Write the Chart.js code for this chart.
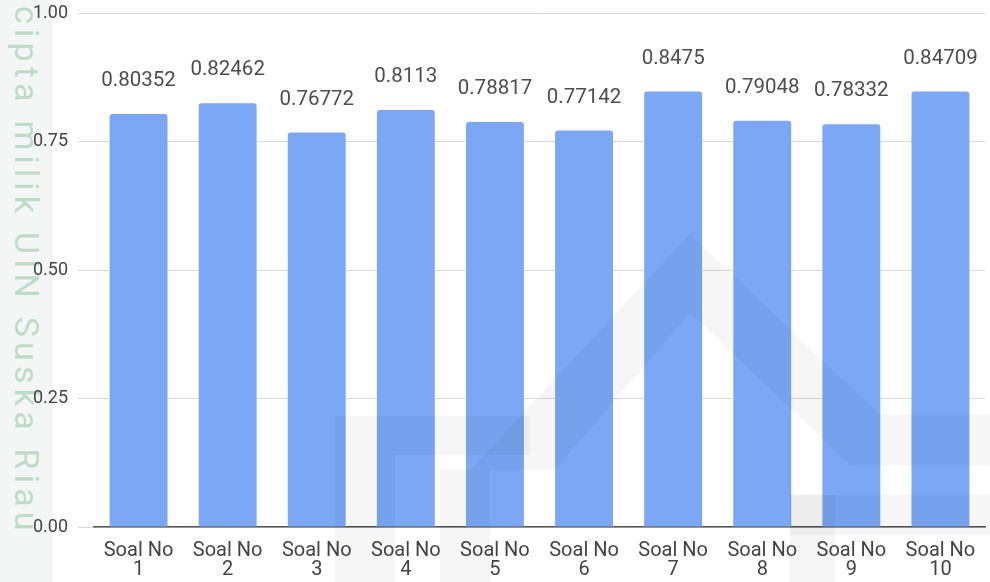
<!DOCTYPE html>
<html>
<head>
<meta charset="utf-8">
<script src="https://cdn.jsdelivr.net/npm/chart.js@4.4.0/dist/chart.umd.min.js"></script>
<style>
  html, body { margin: 0; padding: 0; background: #fff; }
  #wrap { width: 990px; height: 582px; }
</style>
</head>
<body>
<div id="wrap"><canvas id="chart"></canvas></div>
<script>
// ─── DATA ───────────────────────────────────────────────
const soalLabels = [
  ['Soal No', '1'], ['Soal No', '2'], ['Soal No', '3'], ['Soal No', '4'], ['Soal No', '5'],
  ['Soal No', '6'], ['Soal No', '7'], ['Soal No', '8'], ['Soal No', '9'], ['Soal No', '10']
];
const nilaiSoal = [0.80352, 0.82462, 0.76772, 0.8113, 0.78817, 0.77142, 0.8475, 0.79048, 0.78332, 0.84709];
const yTicks = [0, 0.25, 0.5, 0.75, 1];
const watermarkText = 'cipta milik UIN Suska Riau';

const FONT = 'Roboto, "Open Sans", Arial, sans-serif';

// background band + vertical watermark text
const backgroundPlugin = {
  id: 'bg',
  beforeDraw(chart) {
    const ctx = chart.ctx;
    ctx.save();
    ctx.fillStyle = '#ffffff';
    ctx.fillRect(0, 0, chart.width, chart.height);
    ctx.fillStyle = '#f4f5f5';
    ctx.fillRect(0, 0, 53, chart.height);

    ctx.translate(15, 6);
    ctx.rotate(Math.PI / 2);
    ctx.font = '34px ' + FONT;
    ctx.fillStyle = '#bcdcc8';
    ctx.textBaseline = 'alphabetic';
    const w = ctx.measureText(watermarkText).width;
    const extra = (524 - w) / (watermarkText.length - 1);
    ctx.letterSpacing = extra.toFixed(1) + 'px';
    ctx.fillText(watermarkText, 0, 0);
    ctx.restore();
  }
};

// faint logo watermark over the bars + value labels
const labelPlugin = {
  id: 'labels',
  afterDatasetsDraw(chart) {
    const ctx = chart.ctx;
    ctx.save();
    ctx.fillStyle = 'rgba(0,0,0,0.035)';
    // roof
    ctx.beginPath();
    ctx.moveTo(470, 470); ctx.lineTo(690, 234); ctx.lineTo(880, 415);
    ctx.lineTo(990, 415); ctx.lineTo(990, 465); ctx.lineTo(850, 465);
    ctx.lineTo(690, 313); ctx.lineTo(555, 470);
    ctx.closePath(); ctx.fill();
    // left frame
    ctx.beginPath();
    ctx.moveTo(335, 416); ctx.lineTo(530, 416); ctx.lineTo(530, 455);
    ctx.lineTo(395, 455); ctx.lineTo(395, 582); ctx.lineTo(335, 582);
    ctx.closePath(); ctx.fill();
    ctx.fillRect(440, 470, 50, 112);
    // right block
    ctx.fillRect(790, 495, 200, 40);
    ctx.fillRect(790, 495, 45, 87);
    ctx.restore();

    const meta = chart.getDatasetMeta(0);
    ctx.save();
    ctx.font = '20.5px ' + FONT;
    ctx.fillStyle = '#4d4d4d';
    ctx.textAlign = 'center';
    ctx.textBaseline = 'middle';
    meta.data.forEach((bar, i) => {
      ctx.fillText(String(nilaiSoal[i]), bar.x, bar.y - 33);
    });
    ctx.restore();
  }
};

new Chart(document.getElementById('chart'), {
  type: 'bar',
  data: {
    labels: soalLabels,
    datasets: [{
      data: nilaiSoal,
      backgroundColor: '#7ba7f5',
      borderRadius: { topLeft: 3, topRight: 3 },
      borderSkipped: 'bottom',
      barPercentage: 0.65,
      categoryPercentage: 1
    }]
  },
  options: {
    responsive: true,
    maintainAspectRatio: false,
    animation: false,
    layout: { padding: { top: 13, right: 5, left: 0, bottom: 0 } },
    plugins: {
      legend: { display: false },
      tooltip: { enabled: false }
    },
    scales: {
      y: {
        min: 0,
        max: 1,
        afterBuildTicks: scale => { scale.ticks = yTicks.map(v => ({ value: v })); },
        afterFit: scale => {
          scale.width = 94;
          scale.paddingTop = 0;
          scale.paddingBottom = 0;
        },
        ticks: {
          color: '#444',
          font: { family: FONT, size: 18 },
          padding: 10,
          callback: v => Number(v).toFixed(2)
        },
        grid: { color: '#d9d9d9', lineWidth: 1, tickLength: 16, drawTicks: true },
        border: { display: false }
      },
      x: {
        afterFit: scale => { scale.height = 55; },
        ticks: {
          color: '#444',
          font: { family: FONT, size: 20, lineHeight: 0.95 },
          padding: 14,
          maxRotation: 0,
          autoSkip: false
        },
        grid: { display: false, drawTicks: false },
        border: { display: true, color: '#555', width: 1.5 }
      }
    }
  },
  plugins: [backgroundPlugin, labelPlugin]
});
</script>
</body>
</html>
